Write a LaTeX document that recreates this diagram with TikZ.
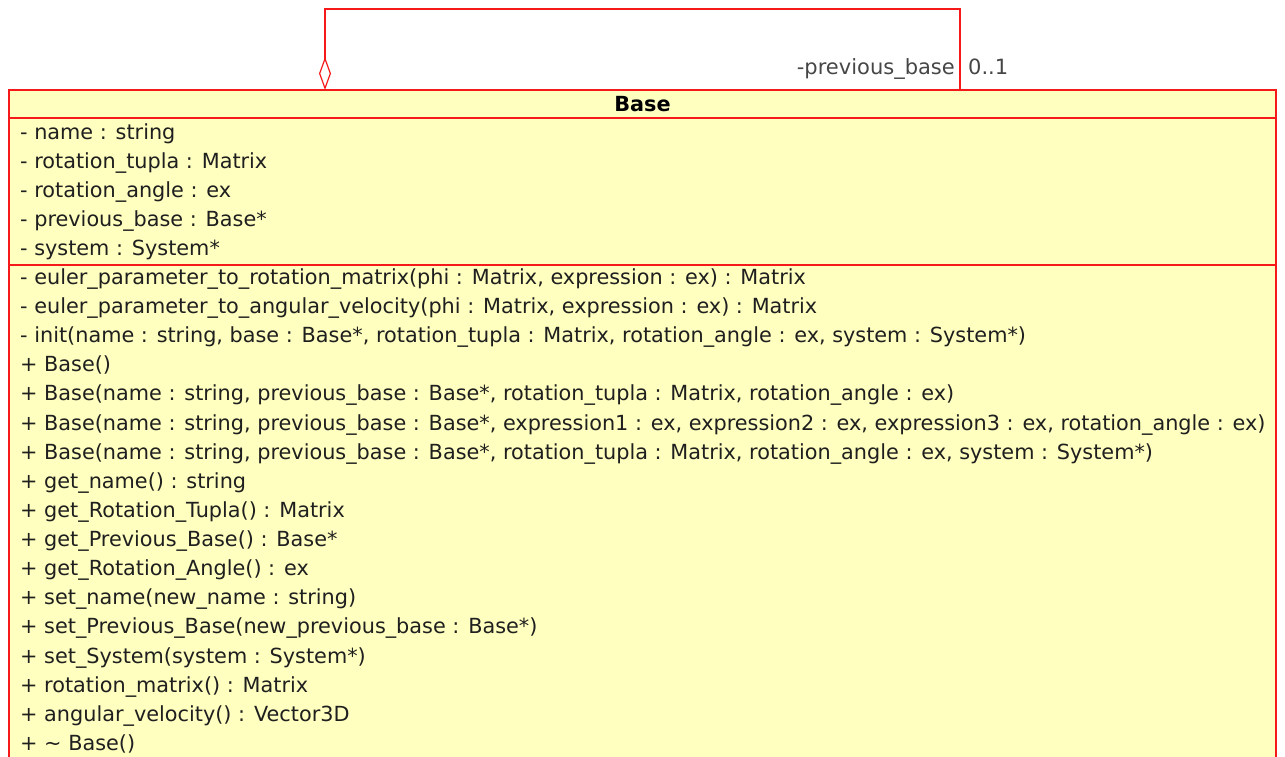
\documentclass[tikz,border=0pt]{standalone}
\usepackage{fontspec}
\setmainfont{DejaVu Sans}
\usetikzlibrary{positioning,arrows.meta}
\definecolor{classfill}{RGB}{255,255,192}
\definecolor{classline}{RGB}{245,25,25}
\definecolor{roletext}{RGB}{70,70,70}
\tikzset{
  classedge/.style={draw=classline, line width=1.4pt},
  member/.style={anchor=base west, inner sep=0pt, text=black!88, font=\fontsize{20.8}{24}\selectfont},
  role/.style={inner sep=0pt, text=roletext, font=\fontsize{21}{24}\selectfont},
}
\begin{document}
\begin{tikzpicture}[x=1pt,y=-1pt]
  \useasboundingbox (0,0) rectangle (1285,756);
  % class box
  \filldraw[fill=classfill, classedge] (9,760) -- (9,90) -- (1276,90) -- (1276,760);
  \draw[classedge] (9,118) -- (1276,118);
  \draw[classedge] (9,265) -- (1276,265);
  \node[inner sep=0pt, font=\fontsize{20.8}{24}\selectfont\bfseries] (title) at (642.5,104) {Base};
  % attributes
  \foreach \txt [count=\i from 0] in {
      {- name : string},
      {- rotation\_tupla : Matrix},
      {- rotation\_angle : ex},
      {- previous\_base : Base*},
      {- system : System*}}
    \node[member] (attr\i) at (20,139.5+29.12*\i) {\txt};
  % operations
  \foreach \txt [count=\i from 0] in {
      {- euler\_parameter\_to\_rotation\_matrix(phi : Matrix, expression : ex) : Matrix},
      {- euler\_parameter\_to\_angular\_velocity(phi : Matrix, expression : ex) : Matrix},
      {- init(name : string, base : Base*, rotation\_tupla : Matrix, rotation\_angle : ex, system : System*)},
      {+ Base()},
      {+ Base(name : string, previous\_base : Base*, rotation\_tupla : Matrix, rotation\_angle : ex)},
      {+ Base(name : string, previous\_base : Base*, expression1 : ex, expression2 : ex, expression3 : ex, rotation\_angle : ex)},
      {+ Base(name : string, previous\_base : Base*, rotation\_tupla : Matrix, rotation\_angle : ex, system : System*)},
      {+ get\_name() : string},
      {+ get\_Rotation\_Tupla() : Matrix},
      {+ get\_Previous\_Base() : Base*},
      {+ get\_Rotation\_Angle() : ex},
      {+ set\_name(new\_name : string)},
      {+ set\_Previous\_Base(new\_previous\_base : Base*)},
      {+ set\_System(system : System*)},
      {+ rotation\_matrix() : Matrix},
      {+ angular\_velocity() : Vector3D},
      {+ \textasciitilde{} Base()}}
    \node[member] (op\i) at (20,284.5+29.12*\i) {\txt};
  % self association
  \coordinate (whole) at (325,90);
  \coordinate (part) at (960,90);
  \draw[classedge, {Diamond[open, length=33pt, width=12pt, line width=1.2pt]}-] (whole) -- (325,9) -- (960,9) -- (part);
  \node[role, anchor=base east] (rolename) at (955,74.5) {-previous\_base};
  \node[role, anchor=base west] (mult) at (968,74.5) {0..1};
\end{tikzpicture}
\end{document}
